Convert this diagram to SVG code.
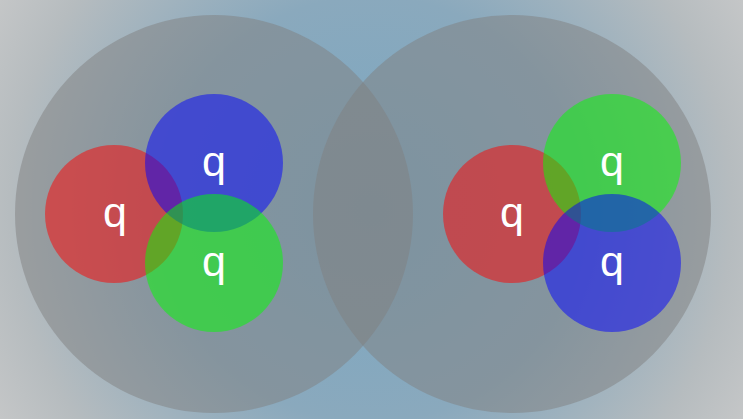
<svg xmlns="http://www.w3.org/2000/svg" width="743" height="419" viewBox="0 0 743 419">
<defs>
<radialGradient id="bg" gradientUnits="userSpaceOnUse" cx="371" cy="209" r="425">
<stop offset="0" stop-color="#7aa7c2"/>
<stop offset="0.5" stop-color="#8aa9bd"/>
<stop offset="0.85" stop-color="#b6bcbf"/>
<stop offset="1" stop-color="#c4c6c7"/>
</radialGradient>
</defs>
<style>
.hadron{fill:#808080;fill-opacity:0.5}
.r{fill:#ff0000;fill-opacity:0.5}
.g{fill:#00ff00;fill-opacity:0.5}
.b{fill:#0000ff;fill-opacity:0.5}
.lbl{fill:#ffffff;font-family:"Liberation Sans",Arial,sans-serif;font-size:43px;text-anchor:middle}
</style>
<rect width="743" height="419" fill="url(#bg)"/>
<g id="hadron-left"><circle class="hadron" cx="214" cy="214" r="199"/></g>
<g id="hadron-right"><circle class="hadron" cx="512" cy="214" r="199"/></g>
<g id="quark-left-red"><circle class="r" cx="114" cy="214" r="69"/></g>
<g id="quark-left-blue"><circle class="b" cx="214" cy="163" r="69"/></g>
<g id="quark-left-green"><circle class="g" cx="214" cy="263" r="69"/></g>
<g id="quark-right-red"><circle class="r" cx="512" cy="214" r="69"/></g>
<g id="quark-right-green"><circle class="g" cx="612" cy="163" r="69"/></g>
<g id="quark-right-blue"><circle class="b" cx="612" cy="263" r="69"/></g>
<g id="labels">
<text class="lbl" x="115" y="227">q</text>
<text class="lbl" x="214" y="176">q</text>
<text class="lbl" x="214" y="276">q</text>
<text class="lbl" x="512" y="227">q</text>
<text class="lbl" x="612" y="176">q</text>
<text class="lbl" x="612" y="276">q</text>
</g>
<g id="connectors"/>
</svg>
